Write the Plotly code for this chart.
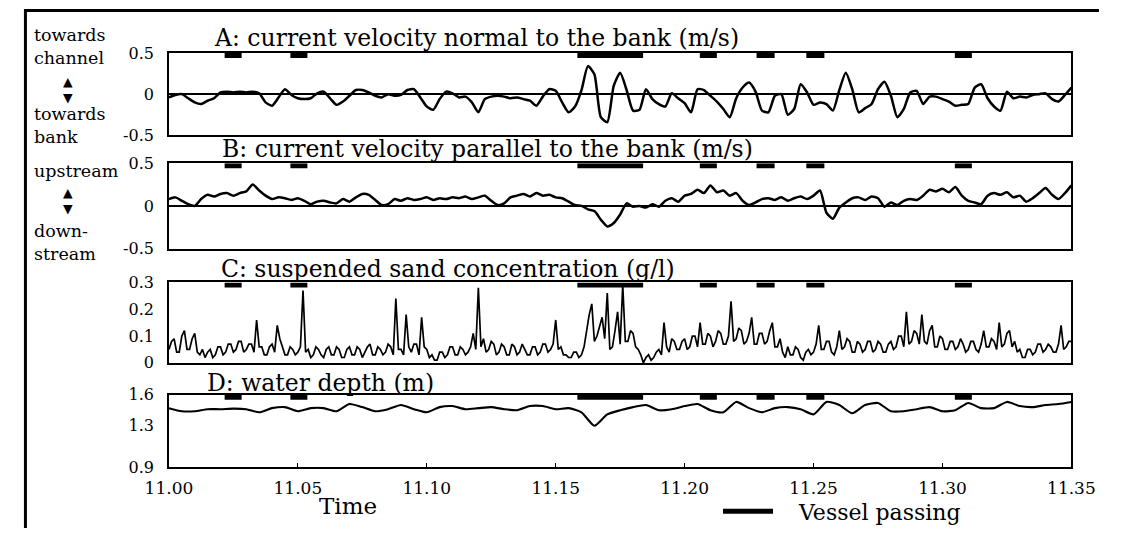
import plotly.graph_objects as go

W, H = 1123, 538
FONT = "DejaVu Serif"

# The photographed page appears slightly shrunk/offset; positions below are
# given in reference-picture pixels and converted to page pixels.
SX, OX, SY, OY = 0.961, 21.5, 0.971, 7.8


def px(x_ref):
    return ((x_ref - OX) / SX) / W


def py(y_ref):
    return 1 - ((y_ref - OY) / SY) / H


# ---------------- data (minutes after 11.00) ----------------
tick_minutes = [0, 5, 10, 15, 20, 25, 30, 35]
tick_labels = ["11.00", "11.05", "11.10", "11.15", "11.20", "11.25", "11.30", "11.35"]

vessel_start = [2.16, 4.71, 15.84, 20.59, 22.79, 24.72, 30.48]
vessel_end = [2.82, 5.37, 18.39, 21.25, 23.49, 25.42, 31.14]

t_ab = [i * 0.25 for i in range(141)]
t_c = [i * 0.1 for i in range(351)]
t_d = [i * 0.5 for i in range(71)]

velocity_normal = [
    -0.04, -0.01, 0.00, -0.05, -0.10, -0.12, -0.08, -0.05, 0.02, 0.03,
    0.02, 0.03, 0.02, 0.03, 0.01, -0.10, -0.14, -0.04, 0.06, -0.01,
    -0.05, -0.06, -0.05, 0.01, 0.03, -0.05, -0.13, -0.09, -0.02, 0.05,
    0.05, 0.02, -0.02, -0.04, 0.00, -0.02, -0.01, 0.05, 0.06, -0.04,
    -0.15, -0.19, -0.06, 0.03, 0.01, -0.04, -0.03, -0.10, -0.22, -0.06,
    -0.03, -0.02, -0.03, -0.05, -0.04, -0.06, -0.08, -0.14, -0.03, 0.06,
    0.04, -0.10, -0.22, -0.15, 0.05, 0.34, 0.24, -0.28, -0.34, 0.10,
    0.26, 0.05, -0.20, -0.19, 0.06, -0.06, -0.12, -0.15, 0.01, -0.05,
    -0.11, -0.22, 0.06, 0.05, -0.02, -0.09, -0.18, -0.28, -0.05, 0.08,
    0.14, 0.03, -0.20, -0.22, -0.02, 0.00, -0.25, -0.18, 0.12, 0.02,
    -0.13, -0.10, -0.12, -0.20, 0.05, 0.26, 0.06, -0.22, -0.17, -0.12,
    0.06, 0.15, -0.02, -0.28, -0.18, 0.02, 0.04, -0.12, -0.03, -0.03,
    -0.06, -0.09, -0.14, -0.13, -0.12, 0.08, 0.12, -0.05, -0.15, -0.20,
    0.03, -0.05, -0.03, -0.04, -0.01, 0.00, 0.01, -0.06, -0.09, -0.01,
    0.08,
]

velocity_parallel = [
    0.08, 0.10, 0.06, 0.02, 0.00, 0.08, 0.13, 0.11, 0.14, 0.15,
    0.12, 0.15, 0.17, 0.25, 0.18, 0.12, 0.08, 0.10, 0.09, 0.07,
    0.09, 0.06, 0.02, 0.05, 0.06, 0.04, 0.03, 0.08, 0.05, 0.10,
    0.14, 0.13, 0.07, 0.01, 0.02, 0.08, 0.06, 0.09, 0.07, 0.08,
    0.10, 0.07, 0.09, 0.08, 0.10, 0.09, 0.11, 0.08, 0.10, 0.12,
    0.06, 0.01, 0.03, 0.10, 0.12, 0.14, 0.11, 0.15, 0.12, 0.13,
    0.10, 0.09, 0.05, 0.01, 0.00, -0.04, -0.06, -0.16, -0.24, -0.20,
    -0.10, 0.03, -0.01, 0.00, -0.02, 0.02, -0.01, 0.06, 0.09, 0.05,
    0.12, 0.14, 0.19, 0.15, 0.24, 0.16, 0.18, 0.12, 0.15, 0.06,
    0.01, 0.04, 0.08, 0.09, 0.07, 0.10, 0.06, 0.09, 0.11, 0.08,
    0.12, 0.18, -0.08, -0.15, -0.02, 0.04, 0.09, 0.10, 0.07, 0.11,
    0.09, -0.01, 0.04, 0.01, 0.06, 0.08, 0.07, 0.12, 0.19, 0.17,
    0.20, 0.16, 0.22, 0.12, 0.06, 0.04, 0.02, 0.12, 0.15, 0.13,
    0.16, 0.10, 0.12, 0.05, 0.09, 0.15, 0.21, 0.13, 0.08, 0.15,
    0.24,
]

sand_concentration = [
    0.05, 0.08, 0.09, 0.04, 0.04, 0.10, 0.12, 0.05, 0.05, 0.09,
    0.11, 0.04, 0.03, 0.05, 0.02, 0.04, 0.05, 0.02, 0.03, 0.06,
    0.06, 0.03, 0.04, 0.07, 0.07, 0.04, 0.05, 0.08, 0.08, 0.04,
    0.05, 0.07, 0.07, 0.04, 0.16, 0.06, 0.06, 0.03, 0.03, 0.06,
    0.07, 0.04, 0.14, 0.09, 0.06, 0.03, 0.03, 0.06, 0.05, 0.03,
    0.04, 0.06, 0.27, 0.04, 0.05, 0.02, 0.03, 0.06, 0.05, 0.03,
    0.02, 0.05, 0.06, 0.03, 0.03, 0.06, 0.05, 0.02, 0.02, 0.05,
    0.06, 0.03, 0.03, 0.06, 0.05, 0.02, 0.04, 0.06, 0.07, 0.03,
    0.03, 0.06, 0.05, 0.03, 0.04, 0.07, 0.06, 0.03, 0.24, 0.05,
    0.05, 0.03, 0.18, 0.06, 0.04, 0.07, 0.07, 0.03, 0.17, 0.06,
    0.05, 0.02, 0.03, 0.01, 0.01, 0.04, 0.04, 0.02, 0.03, 0.06,
    0.06, 0.03, 0.03, 0.06, 0.05, 0.03, 0.04, 0.06, 0.11, 0.05,
    0.28, 0.06, 0.09, 0.04, 0.05, 0.08, 0.07, 0.03, 0.04, 0.07,
    0.06, 0.03, 0.03, 0.07, 0.06, 0.03, 0.04, 0.07, 0.05, 0.03,
    0.03, 0.06, 0.06, 0.03, 0.04, 0.07, 0.07, 0.04, 0.05, 0.07,
    0.16, 0.05, 0.06, 0.03, 0.03, 0.02, 0.02, 0.04, 0.04, 0.02,
    0.03, 0.06, 0.12, 0.18, 0.22, 0.08, 0.10, 0.14, 0.17, 0.09,
    0.26, 0.05, 0.06, 0.12, 0.19, 0.07, 0.29, 0.08, 0.08, 0.12,
    0.11, 0.06, 0.05, 0.03, 0.00, 0.02, 0.03, 0.01, 0.02, 0.04,
    0.05, 0.03, 0.15, 0.06, 0.04, 0.09, 0.08, 0.05, 0.05, 0.08,
    0.09, 0.05, 0.06, 0.10, 0.10, 0.06, 0.15, 0.07, 0.07, 0.11,
    0.10, 0.06, 0.08, 0.12, 0.11, 0.07, 0.07, 0.10, 0.23, 0.08,
    0.09, 0.13, 0.12, 0.07, 0.08, 0.11, 0.17, 0.07, 0.07, 0.11,
    0.11, 0.07, 0.08, 0.12, 0.15, 0.06, 0.06, 0.09, 0.04, 0.02,
    0.06, 0.03, 0.03, 0.06, 0.05, 0.02, 0.01, 0.04, 0.05, 0.03,
    0.04, 0.07, 0.14, 0.05, 0.05, 0.08, 0.08, 0.04, 0.03, 0.06,
    0.12, 0.05, 0.06, 0.09, 0.08, 0.04, 0.04, 0.08, 0.07, 0.04,
    0.05, 0.08, 0.08, 0.04, 0.05, 0.08, 0.07, 0.04, 0.04, 0.07,
    0.08, 0.05, 0.06, 0.10, 0.10, 0.06, 0.19, 0.07, 0.08, 0.12,
    0.11, 0.07, 0.18, 0.08, 0.07, 0.12, 0.14, 0.06, 0.06, 0.10,
    0.09, 0.05, 0.05, 0.08, 0.08, 0.05, 0.06, 0.09, 0.07, 0.04,
    0.05, 0.08, 0.08, 0.05, 0.04, 0.07, 0.12, 0.06, 0.06, 0.09,
    0.08, 0.05, 0.15, 0.06, 0.07, 0.11, 0.12, 0.06, 0.08, 0.04,
    0.05, 0.02, 0.02, 0.05, 0.05, 0.03, 0.04, 0.07, 0.07, 0.04,
    0.05, 0.07, 0.06, 0.04, 0.04, 0.07, 0.14, 0.05, 0.06, 0.08,
    0.08,
]

water_depth = [
    1.47, 1.44, 1.44, 1.46, 1.46, 1.465, 1.46, 1.43, 1.47, 1.48,
    1.44, 1.47, 1.47, 1.44, 1.51, 1.48, 1.44, 1.46, 1.50, 1.46,
    1.43, 1.48, 1.49, 1.46, 1.47, 1.48, 1.46, 1.45, 1.49, 1.49,
    1.46, 1.47, 1.43, 1.30, 1.41, 1.45, 1.48, 1.50, 1.45, 1.46,
    1.49, 1.51, 1.45, 1.43, 1.53, 1.47, 1.43, 1.47, 1.48, 1.46,
    1.41, 1.53, 1.50, 1.42, 1.50, 1.52, 1.44, 1.44, 1.46, 1.48,
    1.44, 1.45, 1.52, 1.47, 1.47, 1.53, 1.49, 1.48, 1.50, 1.51,
    1.53,
]

panel_titles = [
    "A: current velocity normal to the bank (m/s)",
    "B: current velocity parallel to the bank (m/s)",
    "C: suspended sand concentration (g/l)",
    "D: water depth (m)",
]

# ---------------- layout geometry (reference pixels) ----------------
X0, X1 = 167, 1073
panels = [
    dict(t=t_ab, v=velocity_normal, top=52, bot=135, rng=[-0.5, 0.5],
         tv=[-0.5, 0, 0.5], tt=["-0.5", "0", "0.5"], zero=True, lw=2.5,
         shape="spline", title_xy=(210, 37)),
    dict(t=t_ab, v=velocity_parallel, top=163, bot=249, rng=[-0.5, 0.5],
         tv=[-0.5, 0, 0.5], tt=["-0.5", "0", "0.5"], zero=True, lw=2.5,
         shape="spline", title_xy=(218, 149)),
    dict(t=t_c, v=sand_concentration, top=283, bot=364, rng=[0, 0.3],
         tv=[0, 0.1, 0.2, 0.3], tt=["0", "0.1", "0.2", "0.3"], zero=False, lw=1.7,
         shape="linear", title_xy=(217, 269)),
    dict(t=t_d, v=water_depth, top=396, bot=469, rng=[0.9, 1.6],
         tv=[0.9, 1.3, 1.6], tt=["0.9", "1.3", "1.6"], zero=False, lw=2.1,
         shape="spline", title_xy=(203, 384)),
]

fig = go.Figure()
layout = {}
annotations = []

for i, p in enumerate(panels):
    sfx = "" if i == 0 else str(i + 1)
    xa, ya = "x" + sfx, "y" + sfx
    fig.add_trace(go.Scatter(
        x=p["t"], y=p["v"], mode="lines", xaxis=xa, yaxis=ya,
        line=dict(color="black", width=p["lw"], shape=p["shape"], smoothing=0.6),
        showlegend=False, hoverinfo="skip"))
    lo, hi = p["rng"]
    ybar = hi - (hi - lo) * 2.5 / (p["bot"] - p["top"])
    bx, by = [], []
    for s, e in zip(vessel_start, vessel_end):
        bx += [s, e, None]
        by += [ybar, ybar, None]
    fig.add_trace(go.Scatter(
        x=bx, y=by, mode="lines", xaxis=xa, yaxis=ya,
        line=dict(color="black", width=5),
        name="\u00a0\u00a0\u00a0Vessel passing",
        legendgroup="vessel", showlegend=(i == 3), hoverinfo="skip"))

    layout["xaxis" + sfx] = dict(
        domain=[px(X0), px(X1)], range=[0, 35], anchor=ya,
        showline=True, mirror=True, linecolor="black", linewidth=1.5,
        showgrid=False, zeroline=False,
        tickvals=tick_minutes, ticktext=tick_labels,
        showticklabels=(i == 3), ticks="inside" if i == 3 else "",
        ticklen=4, tickcolor="black",
        tickfont=dict(family=FONT, size=17, color="black"),
        ticklabelstandoff=5)
    layout["yaxis" + sfx] = dict(
        domain=[py(p["bot"]), py(p["top"])], range=p["rng"], anchor=xa,
        showline=True, mirror=True, linecolor="black", linewidth=1.5,
        showgrid=False, zeroline=p["zero"], zerolinecolor="black",
        zerolinewidth=1.5, tickvals=p["tv"], ticktext=p["tt"], ticks="",
        tickfont=dict(family=FONT, size=16, color="black"),
        ticklabelstandoff=10)
    tx, ty = p["title_xy"]
    annotations.append(dict(
        text=panel_titles[i], x=px(tx), y=py(ty), xref="paper", yref="paper",
        xanchor="left", yanchor="middle", showarrow=False,
        font=dict(family=FONT, size=23.5, color="black")))

side_labels = [
    ("towards<br>channel", 30, 45.5), ("towards<br>bank", 30, 125.5),
    ("upstream", 30, 171), ("down-<br>stream", 30, 242.5),
]
for txt, x, y in side_labels:
    annotations.append(dict(
        text=txt, x=px(x), y=py(y), xref="paper", yref="paper",
        xanchor="left", yanchor="middle", align="left", showarrow=False,
        font=dict(family=FONT, size=17.5, color="black")))

arrows = [(66, 89), (66, 201)]
for x, y in arrows:
    annotations.append(dict(
        text="▲<br>▼", x=px(x), y=py(y), xref="paper", yref="paper",
        xanchor="center", yanchor="middle", showarrow=False,
        font=dict(family="DejaVu Sans", size=12.5, color="black")))

annotations.append(dict(
    text="Time", x=px(347), y=py(508), xref="paper", yref="paper",
    xanchor="center", yanchor="middle", showarrow=False,
    font=dict(family=FONT, size=23, color="black")))

fig.update_layout(
    **layout,
    width=W, height=H, margin=dict(l=0, r=0, t=0, b=0),
    paper_bgcolor="white", plot_bgcolor="white",
    annotations=annotations,
    hovermode=False,
    showlegend=True,
    legend=dict(x=725 / W, y=1 - 499 / H, xanchor="left", yanchor="top",
                font=dict(family=FONT, size=22, color="black"),
                bgcolor="rgba(0,0,0,0)", itemwidth=50),
    shapes=[
        dict(type="line", xref="paper", yref="paper", x0=0, x1=1,
             y0=1 - 1.5 / H, y1=1 - 1.5 / H, line=dict(color="black", width=3)),
        dict(type="line", xref="paper", yref="paper", x0=1.5 / W, x1=1.5 / W,
             y0=1, y1=0, line=dict(color="black", width=3)),
    ],
)

fig.write_html(
    "out.html",
    config={"responsive": False, "displayModeBar": False},
    post_script=(
        "document.body.style.margin='0';"
        "document.body.style.overflow='hidden';"
        "document.documentElement.style.overflow='hidden';"
    ),
)
